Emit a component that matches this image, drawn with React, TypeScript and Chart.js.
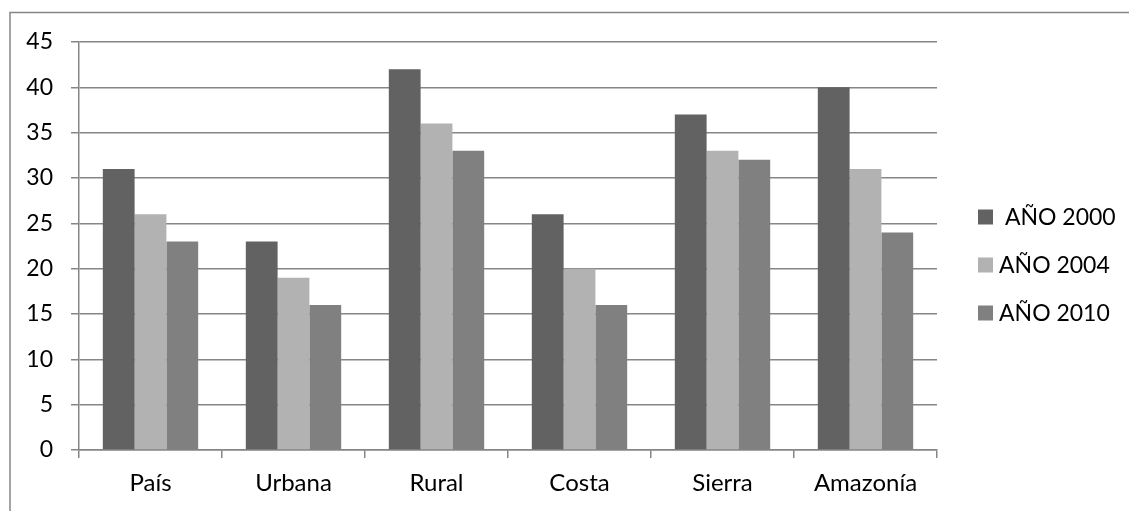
import { useEffect, useRef } from 'react';
import { Chart, registerables } from 'chart.js';

Chart.register(...registerables);

const categories = ['País', 'Urbana', 'Rural', 'Costa', 'Sierra', 'Amazonía'];
const seriesNames = [' AÑO 2000', 'AÑO 2004', 'AÑO 2010'];
const values2000 = [31, 23, 42, 26, 37, 40];
const values2004 = [26, 19, 36, 20, 33, 31];
const values2010 = [23, 16, 33, 16, 32, 24];
const seriesColors = ['#626262', '#b2b2b2', '#808080'];
const yMin = 0;
const yMax = 45;
const yStep = 5;

const FONT = 'Lato, "Liberation Sans", sans-serif';
const FONT_SIZE = 24;
const LINE = '#868686';

const framePlugin = {
  id: 'frame',
  beforeDraw(chart: any) {
    const ctx = chart.ctx;
    ctx.save();
    ctx.strokeStyle = LINE;
    ctx.lineWidth = 1.5;
    ctx.beginPath();
    ctx.moveTo(10, chart.height);
    ctx.lineTo(10, 12.5);
    ctx.lineTo(chart.width, 12.5);
    ctx.stroke();
    ctx.restore();
  },
};

const legendPlugin = {
  id: 'customLegend',
  afterDraw(chart: any) {
    const ctx = chart.ctx;
    const area = chart.chartArea;
    const x0 = area.right + 41;
    const yc0 = 217;
    const gap = 48;
    const box = 15;
    ctx.save();
    ctx.font = `${FONT_SIZE - 1}px ${FONT}`;
    ctx.textBaseline = 'middle';
    ctx.textAlign = 'left';
    chart.data.datasets.forEach((ds: any, i: number) => {
      const yc = yc0 + gap * i;
      ctx.fillStyle = ds.backgroundColor;
      ctx.fillRect(x0, yc - box / 2, box, box);
      ctx.fillStyle = '#000';
      ctx.fillText(ds.label, x0 + box + 6, yc + 1);
    });
    ctx.restore();
  },
};

export default function App() {
  const ref = useRef<HTMLCanvasElement>(null);
  useEffect(() => {
    document.body.style.margin = '0';
    const canvas = ref.current!;
    const chart = new Chart(canvas, {
      type: 'bar',
      data: {
        labels: categories,
        datasets: [values2000, values2004, values2010].map((vals, i) => ({
          label: seriesNames[i],
          data: vals,
          backgroundColor: seriesColors[i],
          borderWidth: 0,
          barPercentage: 1,
          categoryPercentage: 0.667,
        })),
      },
      options: {
        responsive: false,
        animation: false,
        devicePixelRatio: 1,
        layout: { padding: { left: 0, top: 42, right: 192, bottom: 0 } },
        plugins: { legend: { display: false }, tooltip: { enabled: false } },
        scales: {
          x: {
            offset: true,
            grid: {
              drawOnChartArea: false,
              drawTicks: true,
              tickLength: 8,
              color: LINE,
              lineWidth: 1.5,
              offset: true,
            },
            border: { color: LINE, width: 1.5 },
            ticks: {
              color: '#000',
              font: { family: FONT, size: FONT_SIZE },
              padding: 11,
              maxRotation: 0,
              autoSkip: false,
            },
            afterFit(scale: any) {
              scale.height = 61;
            },
          },
          y: {
            min: yMin,
            max: yMax,
            grid: { color: LINE, lineWidth: 1.5, tickLength: 8 },
            border: { color: LINE, width: 1.5 },
            ticks: {
              stepSize: yStep,
              color: '#000',
              font: { family: FONT, size: FONT_SIZE - 1 },
              padding: 18,
            },
            afterFit(scale: any) {
              scale.width = 79;
            },
          },
        },
      },
      plugins: [framePlugin, legendPlugin],
    });
    return () => chart.destroy();
  }, []);
  return (
    <div style={{ position: 'absolute', left: 0, top: 0, width: 1129, height: 511, background: '#fff' }}>
      <canvas ref={ref} width={1129} height={511} style={{ display: 'block' }} />
    </div>
  );
}
